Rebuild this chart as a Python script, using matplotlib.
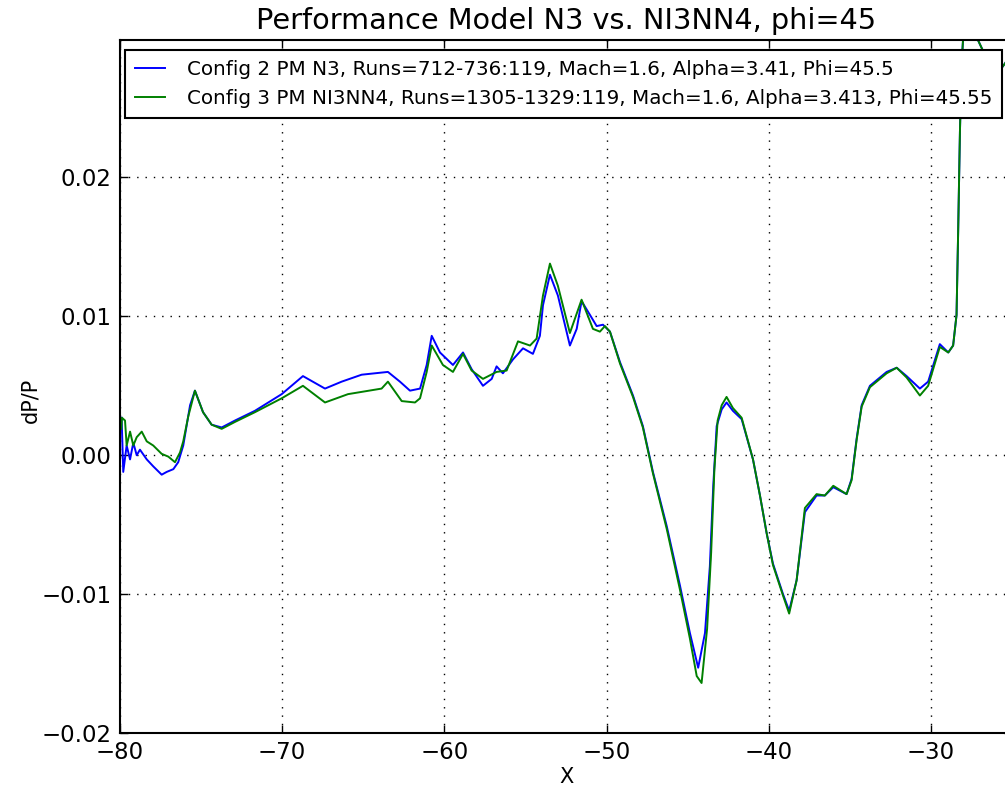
import matplotlib
matplotlib.use("Agg")
import matplotlib.pyplot as plt

# ---- data ----
x_n3 = [-79.90, -79.80, -79.59, -79.38, -79.18, -78.97, -78.77, -78.35, -77.95,
        -77.43, -77.12, -76.71, -76.41, -76.10, -75.68, -75.38, -74.88, -74.35,
        -73.73, -72.91, -71.68, -70.03, -68.72, -67.36, -66.33, -65.10, -63.48,
        -62.74, -62.12, -61.50, -61.09, -60.78, -60.27, -59.47, -58.85, -58.32,
        -57.62, -57.08, -56.78, -56.39, -55.77, -55.15, -54.54, -54.11, -53.92,
        -53.49, -53.00, -52.26, -51.84, -51.54, -51.02, -50.61, -50.22, -49.79,
        -49.17, -48.37, -47.76, -47.14, -46.29, -45.47, -44.86, -44.35, -43.93,
        -43.63, -43.42, -43.21, -42.90, -42.60, -42.21, -41.67, -40.97, -40.54,
        -40.13, -39.74, -39.12, -38.74, -38.28, -37.77, -37.05, -36.54, -36.02,
        -35.20, -34.89, -34.58, -34.27, -33.76, -32.73, -32.11, -31.50, -30.68,
        -30.17, -29.45, -28.93, -28.63, -28.42, -28.32, -28.21, -28.11, -28.01,
        -27.60, -27.18, -26.78, -26.36, -25.95, -25.44, -25.00]
y_n3 = [0.0027, -0.0012, 0.0007, -0.0003, 0.0009, 0.0000, 0.0004, -0.0003, -0.0008,
        -0.0014, -0.0012, -0.0010, -0.0005, 0.0007, 0.0036, 0.00465, 0.0031, 0.0022,
        0.0020, 0.0025, 0.0032, 0.0044, 0.0057, 0.0048, 0.0053, 0.0058, 0.0060,
        0.0053, 0.00465, 0.0048, 0.0065, 0.0086, 0.0074, 0.0065, 0.0074, 0.0062,
        0.0050, 0.0055, 0.0064, 0.0059, 0.0069, 0.0077, 0.0073, 0.0086, 0.0108,
        0.0130, 0.0115, 0.0079, 0.0091, 0.0111, 0.0101, 0.0093, 0.0094, 0.0089,
        0.0067, 0.0043, 0.0021, -0.0012, -0.0051, -0.0094, -0.0128, -0.0153, -0.0128,
        -0.0080, -0.0022, 0.0021, 0.0033, 0.0038, 0.0032, 0.0026, -0.0003, -0.0029,
        -0.0056, -0.0078, -0.0100, -0.0112, -0.0090, -0.0041, -0.0029, -0.0029, -0.0023,
        -0.0028, -0.0017, 0.0012, 0.0036, 0.0050, 0.0060, 0.0063, 0.0057, 0.0048,
        0.0053, 0.0080, 0.0074, 0.0079, 0.0101, 0.0161, 0.0233, 0.0281, 0.0301,
        0.0325, 0.0301, 0.0291, 0.0281, 0.0274, 0.0282, 0.0290]

x_ni3nn4 = [-79.92, -79.88, -79.69, -79.59, -79.38, -79.18, -78.97, -78.66, -78.35,
            -77.95, -77.43, -77.02, -76.61, -76.30, -76.10, -75.79, -75.38, -74.88,
            -74.35, -73.73, -72.91, -71.68, -70.03, -68.72, -67.36, -65.94, -63.87,
            -63.48, -62.63, -61.81, -61.50, -61.09, -60.78, -60.09, -59.47, -58.85,
            -58.32, -57.62, -56.78, -56.16, -55.46, -54.72, -54.31, -53.92, -53.49,
            -53.00, -52.26, -51.54, -50.84, -50.41, -50.10, -49.79, -49.17, -48.37,
            -47.76, -47.14, -46.29, -45.47, -44.86, -44.44, -44.14, -43.80, -43.55,
            -43.35, -43.15, -42.90, -42.60, -42.21, -41.67, -40.97, -40.54, -40.13,
            -39.74, -39.12, -38.74, -38.28, -37.77, -37.05, -36.54, -36.02, -35.20,
            -34.89, -34.58, -34.27, -33.76, -32.73, -32.11, -31.50, -30.68, -30.17,
            -29.45, -28.93, -28.63, -28.42, -28.32, -28.21, -28.11, -28.01, -27.60,
            -27.18, -26.78, -26.36, -25.95, -25.44, -25.00]
y_ni3nn4 = [0.0019, 0.0027, 0.0025, 0.0007, 0.0017, 0.0007, 0.0013, 0.0017, 0.0010,
            0.0007, 0.0001, -0.0001, -0.0005, 0.0002, 0.0010, 0.0028, 0.00465, 0.0031,
            0.0022, 0.0019, 0.0024, 0.0031, 0.0041, 0.0050, 0.0038, 0.0044, 0.0048,
            0.0053, 0.0039, 0.0038, 0.0041, 0.0060, 0.0079, 0.0065, 0.0060, 0.0073,
            0.0061, 0.0055, 0.0060, 0.0061, 0.0082, 0.0079, 0.0084, 0.0115, 0.0138,
            0.0122, 0.0088, 0.0112, 0.0091, 0.0089, 0.0093, 0.0089, 0.0066, 0.0042,
            0.0020, -0.0013, -0.0053, -0.0097, -0.0132, -0.0159, -0.0164, -0.0125, -0.0070,
            -0.0010, 0.0025, 0.0036, 0.0042, 0.0034, 0.0027, -0.0003, -0.0029, -0.0056,
            -0.0079, -0.0101, -0.0114, -0.0090, -0.0038, -0.0028, -0.0029, -0.0022, -0.0028,
            -0.0018, 0.0011, 0.0035, 0.0049, 0.0059, 0.0063, 0.0056, 0.0043, 0.0050,
            0.0078, 0.0074, 0.0079, 0.0101, 0.0161, 0.0233, 0.0281, 0.0301, 0.0325,
            0.0301, 0.0291, 0.0281, 0.0274, 0.0282, 0.0290]

label_n3 = "Config 2 PM N3, Runs=712-736:119, Mach=1.6, Alpha=3.41, Phi=45.5"
label_ni3nn4 = "Config 3 PM NI3NN4, Runs=1305-1329:119, Mach=1.6, Alpha=3.413, Phi=45.55"
title = "Performance Model N3 vs. NI3NN4, phi=45"
xticks = [-80, -70, -60, -50, -40, -30]
yticks = [-0.02, -0.01, 0.00, 0.01, 0.02]

# ---- figure ----
W, H = 1005, 790
fig = plt.figure(figsize=(W / 100, H / 100), dpi=100, facecolor="white")
ax = fig.add_axes([120 / W, 1 - 733 / H, (1012 - 120) / W, (733 - 40) / H])

ax.plot(x_n3, y_n3, color="#0000ff", lw=1.4, label=label_n3)
ax.plot(x_ni3nn4, y_ni3nn4, color="#008000", lw=1.4, label=label_ni3nn4)

ax.set_xlim(-80, -25)
ax.set_ylim(-0.02, 0.0299)
ax.set_xticks(xticks)
ax.set_yticks(yticks)
ax.grid(True, color="black", linestyle=(0, (1, 5)), lw=1.0)

ax.tick_params(direction="in", top=True, right=True, length=6, width=1,
               labelsize=16.5, pad=6)
for sp in ax.spines.values():
    sp.set_linewidth(1.5)

ax.set_title(title, fontsize=20.7, pad=8)
ax.set_xlabel("X", fontsize=15, labelpad=2)
ax.set_ylabel("dP/P", fontsize=15)
ax.yaxis.set_label_coords(-0.089, 0.48)

leg = ax.legend(loc="upper left", bbox_to_anchor=(125 / W, 1 - 50 / H),
                bbox_transform=fig.transFigure, borderaxespad=0,
                fontsize=14.3, fancybox=False, framealpha=1, edgecolor="black",
                handlelength=1.5, handletextpad=1.1, borderpad=0.5,
                labelspacing=0.5)
leg.get_frame().set_linewidth(1.5)

fig.savefig("out.png", dpi=100, facecolor="white")
